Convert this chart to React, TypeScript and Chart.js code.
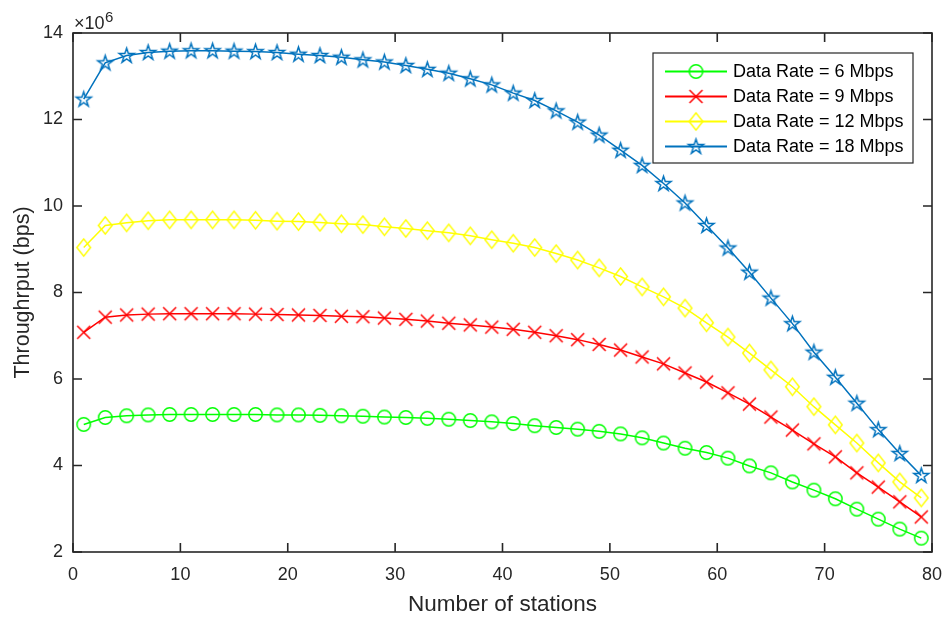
import React, { useEffect, useRef } from "react";
import { Chart, registerables } from "chart.js";

Chart.register(...registerables);

// ---- data ----
const stations = [1, 3, 5, 7, 9, 11, 13, 15, 17, 19, 21, 23, 25, 27, 29, 31, 33, 35, 37, 39, 41, 43, 45, 47, 49, 51, 53, 55, 57, 59, 61, 63, 65, 67, 69, 71, 73, 75, 77, 79];

const rate6 = [4.95, 5.11, 5.15, 5.17, 5.18, 5.18, 5.18, 5.18, 5.18, 5.17, 5.17, 5.16, 5.15, 5.14, 5.12, 5.11, 5.09, 5.07, 5.04, 5.01, 4.97, 4.92, 4.88, 4.84, 4.79, 4.73, 4.64, 4.52, 4.40, 4.30, 4.17, 3.99, 3.83, 3.62, 3.43, 3.23, 2.99, 2.76, 2.53, 2.32];

const rate9 = [7.08, 7.43, 7.48, 7.50, 7.51, 7.51, 7.51, 7.51, 7.50, 7.49, 7.48, 7.47, 7.45, 7.44, 7.41, 7.38, 7.34, 7.29, 7.25, 7.20, 7.15, 7.08, 7.00, 6.91, 6.80, 6.67, 6.51, 6.35, 6.14, 5.93, 5.68, 5.42, 5.12, 4.82, 4.50, 4.20, 3.83, 3.50, 3.16, 2.81];

const rate12 = [9.04, 9.55, 9.61, 9.66, 9.68, 9.68, 9.68, 9.68, 9.67, 9.65, 9.64, 9.62, 9.59, 9.57, 9.52, 9.48, 9.43, 9.38, 9.31, 9.22, 9.14, 9.04, 8.90, 8.75, 8.57, 8.37, 8.13, 7.90, 7.64, 7.30, 6.97, 6.60, 6.21, 5.82, 5.36, 4.94, 4.52, 4.06, 3.62, 3.25];

const rate18 = [12.47, 13.31, 13.48, 13.55, 13.58, 13.59, 13.59, 13.58, 13.57, 13.55, 13.51, 13.48, 13.44, 13.38, 13.33, 13.25, 13.16, 13.07, 12.94, 12.80, 12.61, 12.44, 12.20, 11.94, 11.64, 11.29, 10.94, 10.52, 10.07, 9.55, 9.03, 8.47, 7.87, 7.28, 6.62, 6.04, 5.44, 4.83, 4.28, 3.77];

const seriesLabels = ["Data Rate = 6 Mbps", "Data Rate = 9 Mbps", "Data Rate = 12 Mbps", "Data Rate = 18 Mbps"];
const seriesColors = ["#00ff00", "#ff0000", "#ffff00", "#0072bd"];
const seriesMarkers = ["circle", "cross", "diamond", "star"];
const seriesValues = [rate6, rate9, rate12, rate18];

const xMin = 0, xMax = 80, xStep = 10;
const yMin = 2, yMax = 14, yStep = 2;
const xTitle = "Number of stations";
const yTitle = "Throughrput (bps)";
const exponentBase = "×10";
const exponentPower = "6";

const FONT = "'Liberation Sans', Arial, Helvetica, sans-serif";
const AXIS_COLOR = "#262626";

function makeMarker(kind: string, color: string): HTMLCanvasElement {
  const size = 21;
  const c = document.createElement("canvas");
  c.width = size;
  c.height = size;
  const ctx = c.getContext("2d")!;
  const cx = size / 2, cy = size / 2;
  ctx.strokeStyle = color;
  ctx.lineWidth = 1.5;
  ctx.beginPath();
  if (kind === "circle") {
    ctx.arc(cx, cy, 6.7, 0, Math.PI * 2);
  } else if (kind === "cross") {
    const h = 6.5;
    ctx.moveTo(cx - h, cy - h);
    ctx.lineTo(cx + h, cy + h);
    ctx.moveTo(cx + h, cy - h);
    ctx.lineTo(cx - h, cy + h);
  } else if (kind === "diamond") {
    const hw = 6.8, hh = 8.6;
    ctx.moveTo(cx, cy - hh);
    ctx.lineTo(cx + hw, cy);
    ctx.lineTo(cx, cy + hh);
    ctx.lineTo(cx - hw, cy);
    ctx.closePath();
  } else {
    const R = 7.8, r = R * 0.382;
    for (let i = 0; i < 10; i++) {
      const a = -Math.PI / 2 + (i * Math.PI) / 5;
      const rr = i % 2 === 0 ? R : r;
      const px = cx + rr * Math.cos(a), py = cy + 0.5 + rr * Math.sin(a);
      if (i === 0) ctx.moveTo(px, py);
      else ctx.lineTo(px, py);
    }
    ctx.closePath();
  }
  ctx.stroke();
  return c;
}

export default function App() {
  const canvasRef = useRef<HTMLCanvasElement | null>(null);

  useEffect(() => {
    document.body.style.margin = "0";
    const canvas = canvasRef.current!;
    const markers = seriesMarkers.map((m, i) => makeMarker(m, seriesColors[i]));

    const datasets = seriesValues.map((vals, i) => ({
      label: seriesLabels[i],
      data: stations.map((s, j) => ({ x: s, y: vals[j] })),
      borderColor: seriesColors[i],
      backgroundColor: seriesColors[i],
      borderWidth: 1.5,
      pointStyle: markers[i],
      pointRadius: 8,
      tension: 0,
      order: 4 - i,
    }));

    const framePlugin = {
      id: "matlabFrame",
      afterDraw(chart: any) {
        const { ctx, chartArea: a, scales } = chart;
        const xs = scales.x, ys = scales.y;
        ctx.save();
        ctx.strokeStyle = AXIS_COLOR;
        ctx.lineWidth = 1.6;
        ctx.strokeRect(a.left, a.top, a.right - a.left, a.bottom - a.top);
        const tl = 9;
        ctx.beginPath();
        xs.ticks.forEach((t: any) => {
          const px = xs.getPixelForValue(t.value);
          ctx.moveTo(px, a.bottom);
          ctx.lineTo(px, a.bottom - tl);
          ctx.moveTo(px, a.top);
          ctx.lineTo(px, a.top + tl);
        });
        ys.ticks.forEach((t: any) => {
          const py = ys.getPixelForValue(t.value);
          ctx.moveTo(a.left, py);
          ctx.lineTo(a.left + tl, py);
          ctx.moveTo(a.right, py);
          ctx.lineTo(a.right - tl, py);
        });
        ctx.stroke();

        // exponent label
        ctx.fillStyle = AXIS_COLOR;
        ctx.textAlign = "left";
        ctx.textBaseline = "alphabetic";
        ctx.font = `18px ${FONT}`;
        const bx = a.left + 1;
        ctx.fillText(exponentBase, bx, a.top - 4);
        const w = ctx.measureText(exponentBase).width;
        ctx.font = `15px ${FONT}`;
        ctx.fillText(exponentPower, bx + w + 0.5, a.top - 11.5);

        // legend
        const lx = a.right - 19, ly = a.top + 20;
        const lw = 260, lh = 110;
        ctx.fillStyle = "#ffffff";
        ctx.fillRect(lx - lw, ly, lw, lh);
        ctx.strokeStyle = AXIS_COLOR;
        ctx.lineWidth = 1.2;
        ctx.strokeRect(lx - lw, ly, lw, lh);
        const left = lx - lw;
        chart.data.datasets.forEach((ds: any, i: number) => {
          const ry = ly + 18.5 + i * 25;
          ctx.strokeStyle = ds.borderColor;
          ctx.lineWidth = 1.8;
          ctx.beginPath();
          ctx.moveTo(left + 12, ry);
          ctx.lineTo(left + 74, ry);
          ctx.stroke();
          const m = markers[i];
          ctx.drawImage(m, left + 43 - m.width / 2, ry - m.height / 2);
          ctx.fillStyle = "#000000";
          ctx.font = `18px ${FONT}`;
          ctx.textBaseline = "middle";
          ctx.fillText(ds.label, left + 80, ry + 1);
        });
        ctx.restore();
      },
    };

    const chart = new Chart(canvas, {
      type: "line",
      data: { datasets },
      options: {
        animation: false,
        responsive: false,
        devicePixelRatio: 1,
        layout: { padding: { top: 33, right: 13, bottom: 0, left: 0 } },
        plugins: {
          legend: { display: false },
          tooltip: { enabled: false },
        },
        scales: {
          x: {
            type: "linear",
            min: xMin,
            max: xMax,
            grid: { display: false, drawTicks: false },
            border: { display: false },
            ticks: {
              stepSize: xStep,
              color: AXIS_COLOR,
              font: { family: FONT, size: 18 },
              padding: 12,
              maxRotation: 0,
            },
            title: {
              display: true,
              text: xTitle,
              color: AXIS_COLOR,
              font: { family: FONT, size: 22.5 },
              padding: { top: 0, bottom: 2.5 },
            },
            afterFit: (s: any) => {
              s.height = 69;
              s.paddingLeft = 0;
              s.paddingRight = 0;
            },
          },
          y: {
            type: "linear",
            min: yMin,
            max: yMax,
            grid: { display: false, drawTicks: false },
            border: { display: false },
            ticks: {
              stepSize: yStep,
              color: AXIS_COLOR,
              font: { family: FONT, size: 18 },
              padding: 10,
            },
            title: {
              display: true,
              text: yTitle,
              color: AXIS_COLOR,
              font: { family: FONT, size: 21.5 },
              padding: { top: 10, bottom: 0 },
            },
            afterFit: (s: any) => {
              s.width = 73;
              s.paddingTop = 0;
              s.paddingBottom = 0;
            },
          },
        },
      } as any,
      plugins: [framePlugin],
    });

    return () => chart.destroy();
  }, []);

  return (
    <div style={{ width: 945, height: 621, background: "#ffffff" }}>
      <canvas ref={canvasRef} width={945} height={621} style={{ display: "block" }} />
    </div>
  );
}
